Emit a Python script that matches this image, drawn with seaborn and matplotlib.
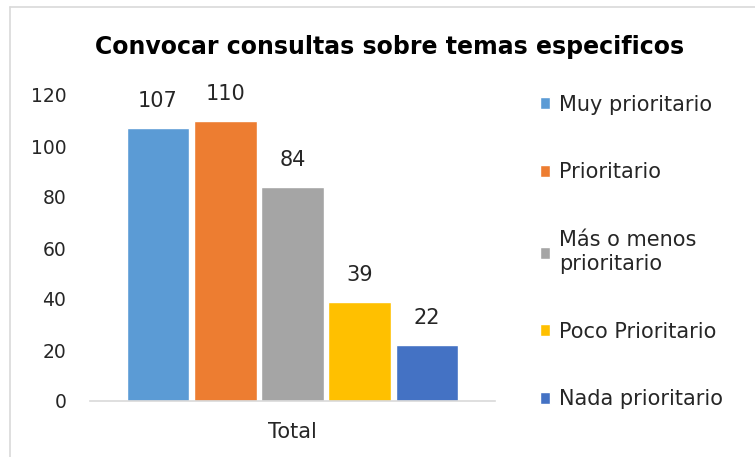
import matplotlib
matplotlib.use("Agg")
import matplotlib.pyplot as plt
import seaborn as sns
import pandas as pd
from matplotlib.lines import Line2D

categories = ["Total"]
series = ["Muy prioritario", "Prioritario", "Más o menos\nprioritario", "Poco Prioritario", "Nada prioritario"]
values = [107, 110, 84, 39, 22]
colors = ["#5B9BD5", "#ED7D31", "#A5A5A5", "#FFC000", "#4472C4"]
yticks = [0, 20, 40, 60, 80, 100, 120]

sns.set_theme(style="white")
plt.rcParams["font.family"] = ["DejaVu Sans"]

df = pd.DataFrame({"cat": categories * len(series), "serie": series, "valor": values})

fig = plt.figure(figsize=(7.55, 4.57), dpi=100)
ax = fig.add_axes([90 / 755, 56 / 457, 405 / 755, 306 / 457])
sns.barplot(data=df, x="cat", y="valor", hue="serie", palette=colors, width=0.83,
            gap=0.07, ax=ax, legend=True, saturation=1)

fs = 13.5
ax.set_ylim(0, 120)
ax.set_xlim(-0.5, 0.5)
ax.set_yticks(yticks)
ax.set_yticklabels([str(v) for v in yticks], fontsize=fs, color="#262626")
ax.tick_params(axis="y", length=0, pad=17)
ax.tick_params(axis="x", length=0, pad=15, labelsize=15, labelcolor="#262626")
ax.set_xticks([-0.5, 0.5], minor=True)
ax.tick_params(axis="x", which="minor", length=6, color="#D9D9D9", width=1.2)
ax.set_xlabel("")
ax.set_ylabel("")
for s in ["top", "right", "left"]:
    ax.spines[s].set_visible(False)
ax.spines["bottom"].set_color("#D9D9D9")
ax.spines["bottom"].set_linewidth(1.2)

for c in ax.containers:
    ax.bar_label(c, fontsize=15, color="#262626", padding=12)

handles, labels = ax.get_legend_handles_labels()
ax.legend_.remove()
leg = fig.legend(handles, labels, loc="upper left", bbox_to_anchor=(525 / 755, 1 - 80 / 457),
                 frameon=False, fontsize=15, handlelength=0.5, handleheight=0.5,
                 handletextpad=0.45, labelspacing=2.3, labelcolor="#262626",
                 borderpad=0.2)

fig.text(390 / 755, 1 - 47 / 457, "Convocar consultas sobre temas especificos",
         ha="center", va="center", fontsize=17, fontweight="bold", color="#000000")

fig.add_artist(Line2D([10 / 755, 10 / 755], [0, 1 - 7 / 457], color="#D9D9D9", lw=1.2))
fig.add_artist(Line2D([10 / 755, 1], [1 - 7 / 457, 1 - 7 / 457], color="#D9D9D9", lw=1.2))

fig.savefig("out.png", dpi=100)
